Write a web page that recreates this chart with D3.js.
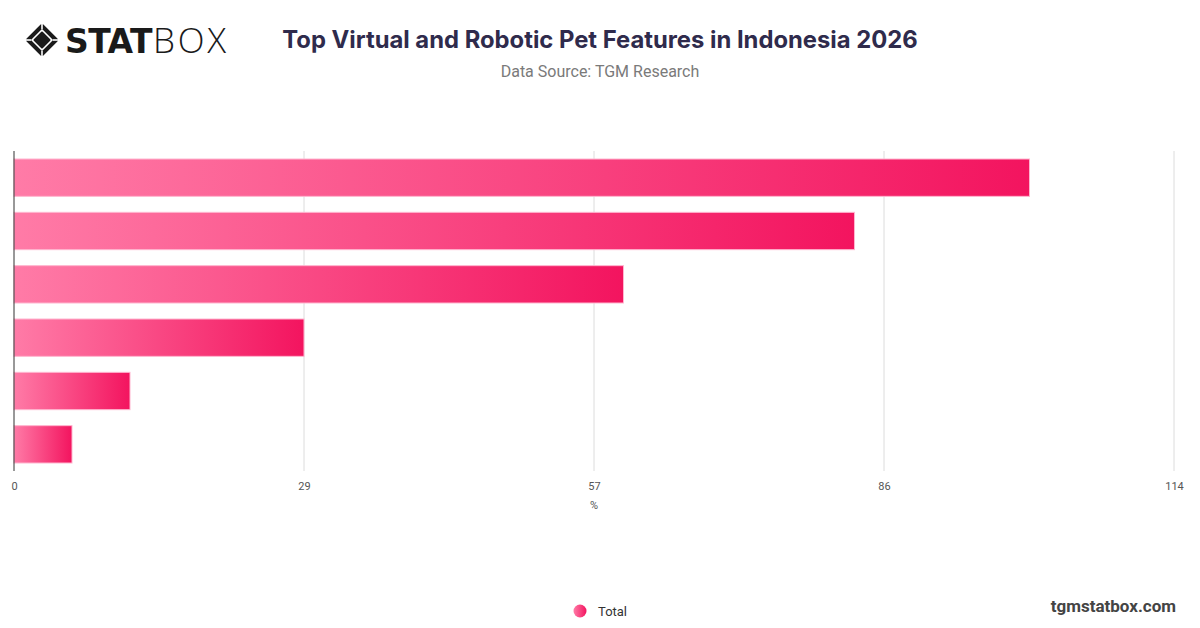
<!DOCTYPE html>
<html>
<head>
<meta charset="utf-8">
<script src="https://cdn.jsdelivr.net/npm/d3@7"></script>
<style>
  html, body { margin: 0; padding: 0; background: #fff; }
  svg { display: block; overflow: visible; }
</style>
</head>
<body>
<div id="chart"></div>
<script>
// chart data
const categories = ['Feature 1', 'Feature 2', 'Feature 3', 'Feature 4', 'Feature 5', 'Feature 6'];
const totals = [99.8, 82.6, 59.9, 28.5, 11.4, 5.7];
const tickValues = [0, 28.5, 57, 85.5, 114];
const seriesName = 'Total';

const width = 1200;
const height = 628;
const margin = {top: 151, right: 26, bottom: 157, left: 14};
const innerWidth = width - margin.left - margin.right;
const innerHeight = height - margin.top - margin.bottom;

const svg = d3.select('#chart')
    .append('svg')
    .attr('width', width)
    .attr('height', height);

// gradient used by bars and legend dot
const defs = svg.append('defs');
const grad = defs.append('linearGradient')
    .attr('id', 'barGrad')
    .attr('x1', '0%').attr('x2', '100%')
    .attr('y1', '0%').attr('y2', '0%');
grad.append('stop').attr('offset', '0%').attr('stop-color', '#ff7ba7');
grad.append('stop').attr('offset', '100%').attr('stop-color', '#f3145f');

// logo
const logo = svg.append('g').attr('transform', 'translate(26,24)');
logo.append('path')
    .attr('d', 'M16,2 L30,16 L16,30 L2,16 Z')
    .attr('fill', 'none')
    .attr('stroke', '#1a1a1a')
    .attr('stroke-width', 4)
    .attr('stroke-linejoin', 'round');
logo.append('path')
    .attr('d', 'M16,8.5 L23.5,16 L16,23.5 L8.5,16 Z')
    .attr('fill', '#1a1a1a')
    .attr('stroke', '#1a1a1a')
    .attr('stroke-width', 2)
    .attr('stroke-linejoin', 'round');
// white notches cutting the outer band
logo.selectAll('line.notch')
    .data([[16, 0, 16, 5], [16, 27, 16, 32], [0, 16, 5, 16], [27, 16, 32, 16]])
    .join('line')
    .attr('class', 'notch')
    .attr('x1', d => d[0]).attr('y1', d => d[1])
    .attr('x2', d => d[2]).attr('y2', d => d[3])
    .attr('stroke', '#fff')
    .attr('stroke-width', 1.6);
logo.append('text')
    .attr('x', 39)
    .attr('y', 29)
    .attr('font-family', '"DejaVu Sans", Lato, sans-serif')
    .attr('font-weight', 700)
    .attr('font-size', 33)
    .attr('letter-spacing', -1.5)
    .attr('fill', '#1a1a1a')
    .attr('textLength', 86)
    .text('STAT');
logo.append('text')
    .attr('x', 127)
    .attr('y', 29)
    .attr('font-family', '"Open Sans", Lato, sans-serif')
    .attr('font-weight', 300)
    .attr('font-size', 35)
    .attr('fill', '#1a1a1a')
    .attr('textLength', 73)
    .text('BOX');

// titles
svg.append('text')
    .attr('x', 600)
    .attr('y', 48)
    .attr('text-anchor', 'middle')
    .attr('font-family', 'Inter, sans-serif')
    .attr('font-weight', 700)
    .attr('font-size', 23.8)
    .attr('fill', '#2f2b4c')
    .text('Top Virtual and Robotic Pet Features in Indonesia 2026');

svg.append('text')
    .attr('x', 600)
    .attr('y', 77)
    .attr('text-anchor', 'middle')
    .attr('font-family', 'Roboto, sans-serif')
    .attr('font-size', 16)
    .attr('fill', '#7a7a7a')
    .text('Data Source: TGM Research');

const chart = svg.append('g')
    .attr('transform', `translate(${margin.left},${margin.top})`);

const x = d3.scaleLinear().domain([0, 114]).range([0, innerWidth]);
const y = d3.scaleBand()
    .domain(categories)
    .range([0, innerHeight])
    .paddingInner(0.3)
    .paddingOuter(0.15);

// grid lines
chart.append('g')
    .selectAll('line')
    .data(tickValues.slice(1))
    .join('line')
    .attr('x1', d => x(d)).attr('x2', d => x(d))
    .attr('y1', 0).attr('y2', innerHeight)
    .attr('stroke', '#dcdcdc')
    .attr('stroke-width', 1);

// x axis labels
const xAxis = d3.axisBottom(x)
    .tickValues(tickValues)
    .tickSize(0)
    .tickPadding(11)
    .tickFormat(d => Math.round(d));
const gx = chart.append('g')
    .attr('transform', `translate(0,${innerHeight})`)
    .call(xAxis);
gx.select('.domain').remove();
gx.selectAll('text')
    .attr('font-family', 'Roboto, sans-serif')
    .attr('font-size', 11)
    .attr('fill', '#555');

chart.append('text')
    .attr('x', x(57))
    .attr('y', innerHeight + 38)
    .attr('text-anchor', 'middle')
    .attr('font-family', 'Roboto, sans-serif')
    .attr('font-size', 11)
    .attr('fill', '#555')
    .text('%');

// bars
chart.selectAll('rect.bar')
    .data(categories.map((c, i) => ({c, v: totals[i]})))
    .join('rect')
    .attr('class', 'bar')
    .attr('x', 0)
    .attr('y', d => y(d.c))
    .attr('width', d => x(d.v))
    .attr('height', y.bandwidth())
    .attr('fill', 'url(#barGrad)')
    .attr('stroke', '#ffb6cf')
    .attr('stroke-width', 1);

// y axis line
chart.append('line')
    .attr('x1', 0).attr('x2', 0)
    .attr('y1', 0).attr('y2', innerHeight)
    .attr('stroke', '#333')
    .attr('stroke-width', 1);

// legend
svg.append('circle')
    .attr('cx', 580)
    .attr('cy', 611)
    .attr('r', 6.5)
    .attr('fill', 'url(#barGrad)');
svg.append('text')
    .attr('x', 598)
    .attr('y', 616)
    .attr('font-family', 'Roboto, sans-serif')
    .attr('font-size', 13)
    .attr('fill', '#333')
    .text(seriesName);

svg.append('text')
    .attr('x', 1176)
    .attr('y', 612)
    .attr('text-anchor', 'end')
    .attr('font-family', 'Roboto, sans-serif')
    .attr('font-weight', 700)
    .attr('font-size', 17)
    .attr('fill', '#444')
    .text('tgmstatbox.com');
</script>
</body>
</html>
